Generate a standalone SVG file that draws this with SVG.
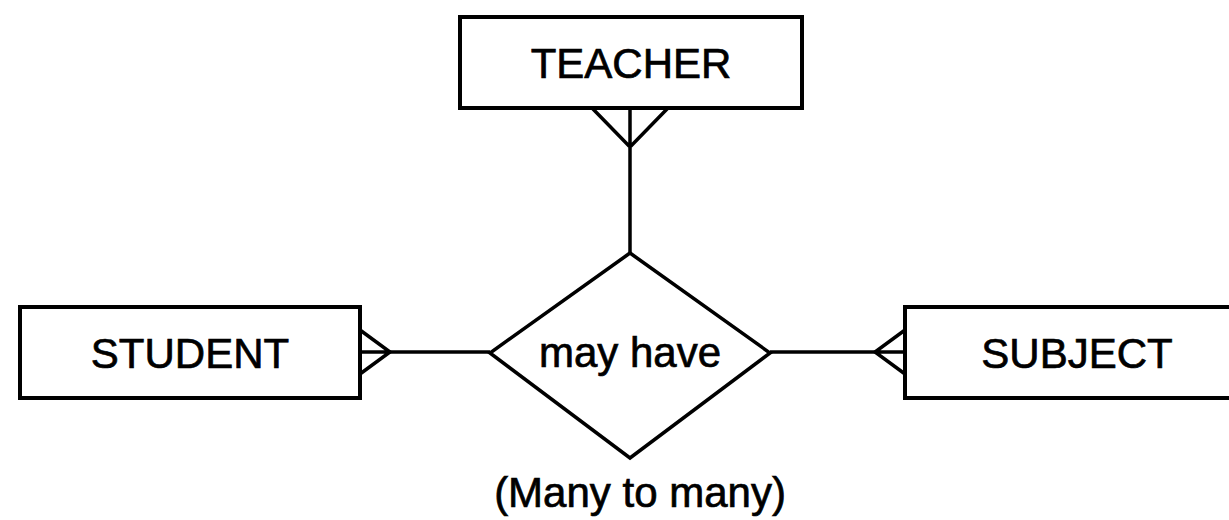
<svg xmlns="http://www.w3.org/2000/svg" width="1229" height="520" viewBox="0 0 1229 520">
<style>
.box{fill:#fff;stroke:#000;stroke-width:4}
.ln{fill:none;stroke:#000;stroke-width:3.5;stroke-linejoin:miter}
.t{font-family:"Liberation Sans",Arial,sans-serif;font-size:42px;fill:#000;stroke:#000;stroke-width:0.7;text-anchor:middle}
</style>
<rect width="1229" height="520" fill="#fff"/>
<g id="connectors">
<path class="ln" d="M630 148 V253"/>
<path class="ln" d="M592 108 L630 147 L668 108 M630 108 V147"/>
<path class="ln" d="M390 352 H490"/>
<path class="ln" d="M360 330 L390 352 L360 374 M360 352 H390"/>
<path class="ln" d="M770 352 H875"/>
<path class="ln" d="M905 330 L875 352 L905 374 M905 352 H875"/>
</g>
<g id="teacher">
<rect class="box" x="460" y="17" width="342" height="91"/>
<text class="t" x="631" y="78">TEACHER</text>
</g>
<g id="student">
<rect class="box" x="20" y="307" width="340" height="91"/>
<text class="t" x="190" y="368">STUDENT</text>
</g>
<g id="subject">
<rect class="box" x="905" y="307" width="340" height="91"/>
<text class="t" x="1077" y="368">SUBJECT</text>
</g>
<g id="may-have">
<polygon class="ln" points="630,253 770,353 630,458 490,353"/>
<text class="t" x="630" y="367">may have</text>
</g>
<g id="caption">
<text class="t" x="640" y="507">(Many to many)</text>
</g>
</svg>
